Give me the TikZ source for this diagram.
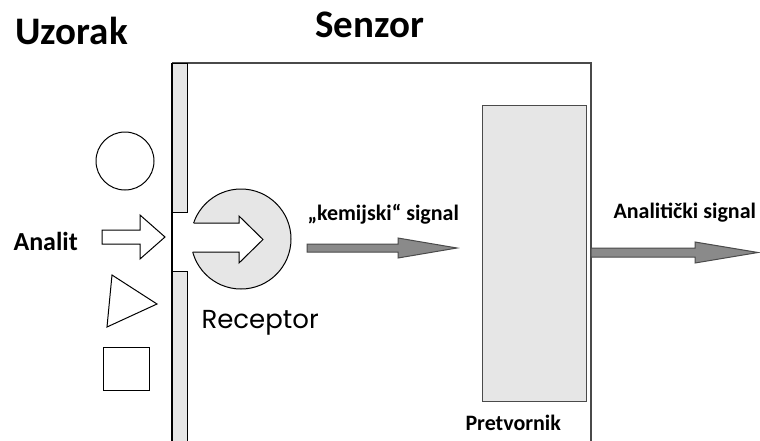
\documentclass[tikz,border=0pt]{standalone}
\usepackage{fontspec}
\setmainfont{Carlito}
\newfontfamily\recfont{Poppins}
\usepackage{tikz}

\definecolor{boxfill}{HTML}{E6E6E6}
\definecolor{sigfill}{HTML}{8A8A8A}
\definecolor{edgegray}{HTML}{4A4A4A}

\tikzset{
  title/.style={anchor=base west,inner sep=0pt,font=\fontsize{39}{41}\selectfont\bfseries},
  label/.style={anchor=base west,inner sep=0pt,font=\fontsize{22}{24}\selectfont\bfseries},
  sigarrow/.style={fill=sigfill,draw=edgegray,line width=1pt},
}

\begin{document}
\begin{tikzpicture}[x=1pt,y=-1pt,line width=1pt]
        \useasboundingbox (0,0) rectangle (760,440);

        \node[title] (uzorak) at (15,44) {Uzorak};
        \node[title] (senzor) at (315,37) {Senzor};

        \draw [edgegray,line width=1.3pt] (172,63) -- (591,63) -- (591,441);
        \draw [line width=1.3pt] (172,63) -- (172,441);
        \draw [fill=boxfill] (172,63) rectangle (187,212);
        \draw [fill=boxfill] (172,271) rectangle (187,442);

        \draw (125,161) circle (29);
        \draw [fill=white] (102,230) -- (140,230) -- (140,215) -- (165,237)
              -- (140,259) -- (140,244) -- (102,244) -- cycle;
        \draw (112,275) -- (157,304) -- (107,327) -- cycle;
        \draw (103,347) rectangle (149,390);
        \node[anchor=base west,inner sep=0pt,font=\fontsize{26}{28}\selectfont\bfseries] (analit) at (13,250) {Analit};

        \draw [fill=boxfill] (241,239) circle (50);
        \fill [white] (189,223) -- (239,223) -- (239,216) -- (263,239.5)
              -- (239,263) -- (239,252) -- (189,252) -- cycle;
        \draw (193.6,223) -- (239,223) -- (239,216) -- (263,239.5)
              -- (239,263) -- (239,252) -- (192.7,252);
        \node[anchor=base west,inner sep=0pt,font=\recfont\fontsize{26}{28}\selectfont] (receptor) at (201,328) {Receptor};

        \node[label] (kem) at (307,220) {„kemijski“ signal};
        \draw [sigarrow] (307,244) -- (398,244) -- (398,238) -- (457,248)
              -- (398,258) -- (398,252) -- (307,252) -- cycle;

        \draw [edgegray,fill=boxfill] (482,105) rectangle (586,401);
        \node[label] (pretvornik) at (465,430) {Pretvornik};

        \node[label] (anal) at (613,218) {Analitički signal};
        \draw [sigarrow] (591,248) -- (695,248) -- (695,242) -- (758,252.5)
              -- (695,263) -- (695,257) -- (591,257) -- cycle;
\end{tikzpicture}
\end{document}
